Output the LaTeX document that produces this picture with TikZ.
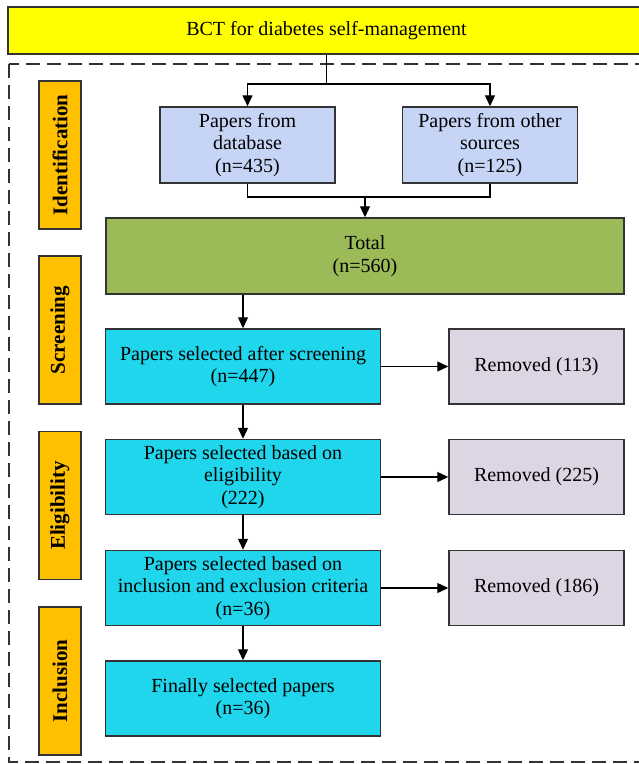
\documentclass[tikz,border=0pt]{standalone}
\usepackage{fontspec}
\setmainfont{Liberation Serif}
\usepackage{tikz}
\usetikzlibrary{arrows.meta}
\definecolor{topyellow}{HTML}{FFFF00}
\definecolor{stageorange}{HTML}{FFC000}
\definecolor{srcblue}{HTML}{C6D4F5}
\definecolor{totalgreen}{HTML}{9BBB59}
\definecolor{selcyan}{HTML}{20D6EC}
\definecolor{remlilac}{HTML}{DCD5E4}
\definecolor{edge}{HTML}{333333}

\begin{document}
\begin{tikzpicture}[
                    x = 1pt,
                    y = -1pt,
                    every node/.style = {font=\fontsize{20}{22.5}\selectfont, align=center},
                    box/.style = {draw=edge, line width=1.5pt, rectangle, inner sep=4pt},
                    stage/.style = {box, fill=stageorange, rotate=90,
                                    minimum width=148pt, minimum height=42pt,
                                    font=\fontsize{21}{23}\selectfont\bfseries},
                    srcbox/.style = {box, fill=srcblue, minimum width=175pt, minimum height=76pt},
                    selbox/.style = {box, fill=selcyan, minimum width=275pt, minimum height=75pt},
                    rembox/.style = {box, fill=remlilac, minimum width=175pt, minimum height=75pt},
                    arr/.style = {line width=1.3pt, -{Triangle[length=11pt,width=10pt]}},
                    link/.style = {line width=1.3pt},
                    frame/.style = {draw=edge, line width=1.3pt, dash pattern=on 14pt off 7pt}
                   ]

\useasboundingbox (0,0) rectangle (639,764);

%dashed frame
\draw [frame] (9,64) rectangle (660,762);

%top box
\node [box, fill=topyellow, minimum width=637pt, minimum height=47pt] (top) at (326.5,30.5)
      {BCT for diabetes self-management};

%stages
\node [stage] (ident) at (60,155)   {Identification};
\node [stage] (scr)   at (60,330)   {Screening};
\node [stage] (elg)   at (60,505.5) {Eligibility};
\node [stage] (inc)   at (60,681)   {Inclusion};

%sources
\node [srcbox] (db)    at (247.5,145) {Papers from\\database\\(n=435)};
\node [srcbox] (other) at (490,145)   {Papers from other\\sources\\(n=125)};

%total
\node [box, fill=totalgreen, minimum width=518pt, minimum height=76pt] (total) at (365,256)
      {Total\\(n=560)};

%selection steps
\node [selbox] (screen) at (243,366.5) {Papers selected after screening\\(n=447)};
\node [selbox] (elig)   at (243,477)   {Papers selected based on\\eligibility\\(222)};
\node [selbox] (crit)   at (243,588)   {Papers selected based on\\inclusion and exclusion criteria\\(n=36)};
\node [selbox] (final)  at (243,698.5) {Finally selected papers\\(n=36)};

%removed
\node [rembox] (rem1) at (536.5,366.5) {Removed (113)};
\node [rembox] (rem2) at (536.5,477)   {Removed (225)};
\node [rembox] (rem3) at (536.5,588)   {Removed (186)};

%split and join
\coordinate (split) at (326.5,84);
\coordinate (join)  at (365,197);

\draw [link] (top) -- (split);
\draw [arr] (split) -| (db);
\draw [arr] (split) -| (other);

\draw [link] (db) |- (join) -| (other);
\draw [arr] (join) -- (total);

\draw [arr] (total.south -| screen.north) -- (screen);
\draw [arr] (screen) -- (elig);
\draw [arr] (elig) -- (crit);
\draw [arr] (crit) -- (final);

\draw [arr] (screen) -- (rem1);
\draw [arr] (elig) -- (rem2);
\draw [arr] (crit) -- (rem3);

\end{tikzpicture}
\end{document}
